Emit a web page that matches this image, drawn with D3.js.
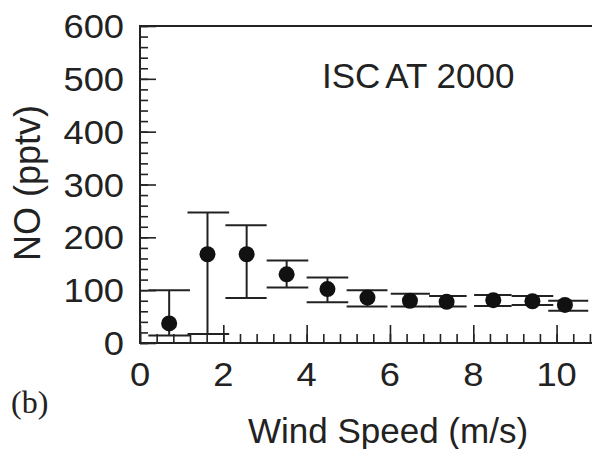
<!DOCTYPE html>
<html>
<head>
<meta charset="utf-8">
<script src="https://cdn.jsdelivr.net/npm/d3@7"></script>
<style>
  body { margin: 0; background: #fff; }
  svg { display: block; }
</style>
</head>
<body>
<div id="chart"></div>
<script>
//Data: wind speed bins, mean NO and the error bar ends
var speed = [0.70, 1.62, 2.56, 3.52, 4.50, 5.46, 6.48, 7.36, 8.48, 9.42, 10.2];
var no = [37, 168, 168, 130, 102, 86, 80, 78, 81, 79, 72];
var noUpper = [100, 247, 223, 156, 124, 100, 93, 89, 91, 89, 80];
var noLower = [14, 17, 85, 105, 77, 69, 69, 69, 70, 72, 61];
var binLo = [0.2, 1.14, 2.05, 3.04, 4.0, 4.96, 6.02, 6.94, 8.02, 8.92, 9.8];
var binHi = [1.2, 2.14, 3.04, 4.04, 5.0, 5.94, 6.96, 7.84, 8.92, 9.92, 10.76];

var xTicks = [0, 2, 4, 6, 8, 10];
var yTicks = [0, 100, 200, 300, 400, 500, 600];

var points = speed.map(function (s, i) {
    return { x: s, y: no[i], hi: noUpper[i], lo: noLower[i], x0: binLo[i], x1: binHi[i] };
});

var width = 592, height = 449;
var plotLeft = 140, plotTop = 26, plotBottom = 343;

var svg = d3.select("#chart")
    .append("svg")
    .attr("width", width)
    .attr("height", height);

var x = d3.scaleLinear().domain([0, 10.85]).range([plotLeft, width]);
var y = d3.scaleLinear().domain([0, 600]).range([plotBottom, plotTop]);

var ink = "#222";
var sans = "'Liberation Sans', Arial, sans-serif";

//Axes with ticks pointing inwards, minor and major ticks drawn separately
var xAxis = svg.append("g").attr("transform", "translate(0," + plotBottom + ")");
xAxis.call(d3.axisTop(x).tickValues(d3.range(0, 10.85, 0.4)).tickSize(9).tickFormat(""));
xAxis.append("g").call(d3.axisTop(x).tickValues(xTicks).tickSize(18).tickFormat(""));

var yAxis = svg.append("g").attr("transform", "translate(" + plotLeft + ",0)");
yAxis.call(d3.axisRight(y).tickValues(d3.range(0, 601, 20)).tickSize(8).tickFormat(""));
yAxis.append("g").call(d3.axisRight(y).tickValues(yTicks).tickSize(16).tickFormat(""));

svg.selectAll(".domain").remove();
svg.selectAll(".tick line").attr("stroke", ink).attr("stroke-width", 1.6);

//Frame: top, left and bottom lines
svg.append("path")
    .attr("d", "M" + width + "," + y(600) + "H" + plotLeft + "V" + y(0) + "H" + width)
    .attr("fill", "none")
    .attr("stroke", ink)
    .attr("stroke-width", 2);

//Tick labels (the original type is a little wider than Arial, so stretch it)
svg.append("g").selectAll("text")
    .data(xTicks)
    .enter()
    .append("text")
    .attr("transform", function (d) { return "translate(" + x(d) + ",386) scale(1.1,1)"; })
    .attr("text-anchor", "middle")
    .attr("font-family", sans)
    .attr("font-size", "33px")
    .attr("fill", ink)
    .text(function (d) { return d; });

svg.append("g").selectAll("text")
    .data(yTicks)
    .enter()
    .append("text")
    .attr("transform", function (d) { return "translate(124," + (y(d) + 12) + ") scale(1.1,1)"; })
    .attr("text-anchor", "end")
    .attr("font-family", sans)
    .attr("font-size", "33px")
    .attr("fill", ink)
    .text(function (d) { return d; });

//Error bars: vertical line plus wide caps across the bin
var bars = svg.append("g").selectAll("g")
    .data(points)
    .enter()
    .append("g")
    .attr("stroke", ink)
    .attr("stroke-width", 2);

bars.append("line")
    .attr("x1", function (d) { return x(d.x); })
    .attr("x2", function (d) { return x(d.x); })
    .attr("y1", function (d) { return y(d.hi); })
    .attr("y2", function (d) { return y(d.lo); });

bars.append("line")
    .attr("x1", function (d) { return x(d.x0); })
    .attr("x2", function (d) { return x(d.x1); })
    .attr("y1", function (d) { return y(d.hi); })
    .attr("y2", function (d) { return y(d.hi); });

bars.append("line")
    .attr("x1", function (d) { return x(d.x0); })
    .attr("x2", function (d) { return x(d.x1); })
    .attr("y1", function (d) { return y(d.lo); })
    .attr("y2", function (d) { return y(d.lo); });

svg.append("g").selectAll("circle")
    .data(points)
    .enter()
    .append("circle")
    .attr("cx", function (d) { return x(d.x); })
    .attr("cy", function (d) { return y(d.y); })
    .attr("r", 8)
    .style("fill", "#111");

//Labels
var title = svg.append("text")
    .attr("x", 322)
    .attr("y", 88)
    .attr("font-family", sans)
    .attr("font-size", "35px")
    .attr("fill", ink);
title.append("tspan").text("ISC");
title.append("tspan").attr("dx", 5).text("AT 2000");

svg.append("text")
    .attr("transform", "translate(40,183) rotate(-90)")
    .attr("text-anchor", "middle")
    .attr("font-family", sans)
    .attr("font-size", "36px")
    .attr("fill", ink)
    .text("NO (pptv)");

svg.append("text")
    .attr("x", 388)
    .attr("y", 443)
    .attr("text-anchor", "middle")
    .attr("font-family", sans)
    .attr("font-size", "35px")
    .attr("fill", ink)
    .text("Wind Speed (m/s)");

svg.append("text")
    .attr("x", 11)
    .attr("y", 413)
    .attr("font-family", "'Liberation Serif', 'Times New Roman', serif")
    .attr("font-size", "32px")
    .attr("fill", ink)
    .text("(b)");
</script>
</body>
</html>
